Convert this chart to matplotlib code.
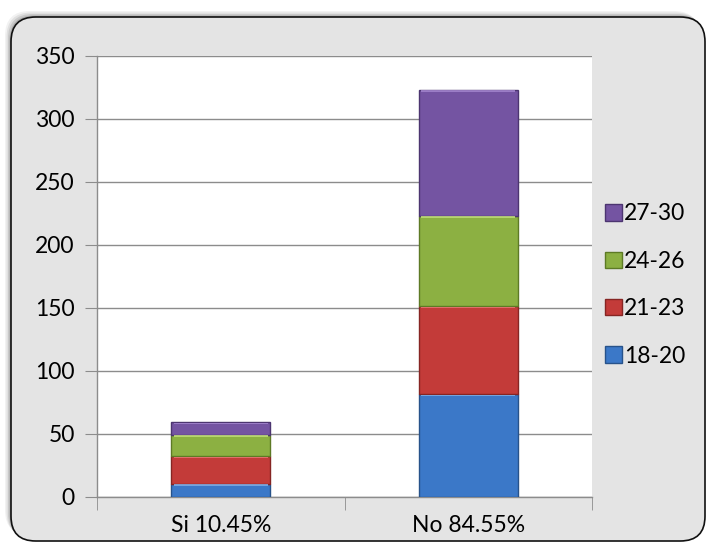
import matplotlib
matplotlib.use("Agg")
import matplotlib.pyplot as plt
from matplotlib.patches import FancyBboxPatch
import numpy as np

categories = ["Si 10.45%", "No 84.55%"]
series_names = ["18-20", "21-23", "24-26", "27-30"]
v_18_20 = [10, 81]
v_21_23 = [22, 70]
v_24_26 = [17, 72]
v_27_30 = [10, 100]
y_ticks = [0, 50, 100, 150, 200, 250, 300, 350]

colors = ["#3b78c8", "#c33b39", "#8cb042", "#7454a2"]
edges = ["#27528a", "#862523", "#5d7a25", "#4c3570"]
tops = ["#7fb6f0", "#ef7b78", "#c7e879", "#a88ad2"]

plt.rcParams['font.family'] = ['Lato', 'DejaVu Sans']
FS = 16.5
W, H = 707, 544
fig = plt.figure(figsize=(W / 100, H / 100), dpi=100)
fig.patch.set_facecolor("white")

# shadow + rounded frame
for i, a in enumerate([0.05, 0.07, 0.10, 0.14]):
    off = (4 - i) * 1.5
    sh = FancyBboxPatch((11 / W - off / W, (H - 541) / H + off / H), (694) / W, (524) / H,
                        boxstyle="round,pad=0,rounding_size=0.035", transform=fig.transFigure,
                        facecolor="black", edgecolor="none", alpha=a, zorder=0, mutation_aspect=W / H)
    fig.patches.append(sh)
frame = FancyBboxPatch((11 / W, (H - 541) / H), 694 / W, 524 / H,
                       boxstyle="round,pad=0,rounding_size=0.035", transform=fig.transFigure,
                       facecolor="#e4e4e4", edgecolor="#111111", linewidth=1.2, zorder=1,
                       mutation_aspect=W / H)
fig.patches.append(frame)

ax = fig.add_axes([97 / W, 1 - 496.5 / H, (592 - 97) / W, (496.5 - 55.5) / H])
ax.set_zorder(2)
ax.set_facecolor("white")

x = np.arange(len(categories))
series = [v_18_20, v_21_23, v_24_26, v_27_30]
bottom = np.zeros(len(categories))
handles = []
for vals, c, e, t, name in zip(series, colors, edges, tops, series_names):
    b = ax.bar(x, vals, width=0.4, bottom=bottom, color=c, edgecolor=e, linewidth=1.0,
               label=name, zorder=3)
    handles.append(b)
    # light bevel line along the top of each segment
    ax.bar(x, [1.2 for v in vals], width=0.38, bottom=bottom + np.array(vals) - 1.6,
           color=t, edgecolor="none", zorder=4, alpha=0.8)
    bottom = bottom + np.array(vals)

ax.set_xlim(-0.5, 1.5)
ax.set_ylim(0, 350)
ax.set_yticks(y_ticks)
ax.set_yticklabels([str(v) for v in y_ticks], fontsize=FS)
ax.set_xticks(x)
ax.set_xticklabels(categories, fontsize=FS)
ax.tick_params(axis="x", length=0, pad=13)
ax.set_xticks([-0.5, 0.5, 1.5], minor=True)
ax.tick_params(axis="x", which="minor", length=9, color="#8c8c8c", direction="out")
ax.tick_params(axis="y", length=9, color="#8c8c8c", direction="out", pad=7)
ax.grid(axis="y", color="#8c8c8c", linewidth=1.0, zorder=0)
ax.set_axisbelow(True)
for s in ["top", "right"]:
    ax.spines[s].set_visible(False)
for s in ["left", "bottom"]:
    ax.spines[s].set_color("#8c8c8c")
    ax.spines[s].set_linewidth(1.0)

leg = fig.legend(handles[::-1], series_names[::-1], loc="center left",
                 bbox_to_anchor=(605 / W, 1 - 285 / H), frameon=False, fontsize=FS,
                 handlelength=0.72, handleheight=0.72, handletextpad=0.12, labelspacing=1.15,
                 borderpad=0, borderaxespad=0)

fig.savefig("out.png", dpi=100, facecolor="white")
